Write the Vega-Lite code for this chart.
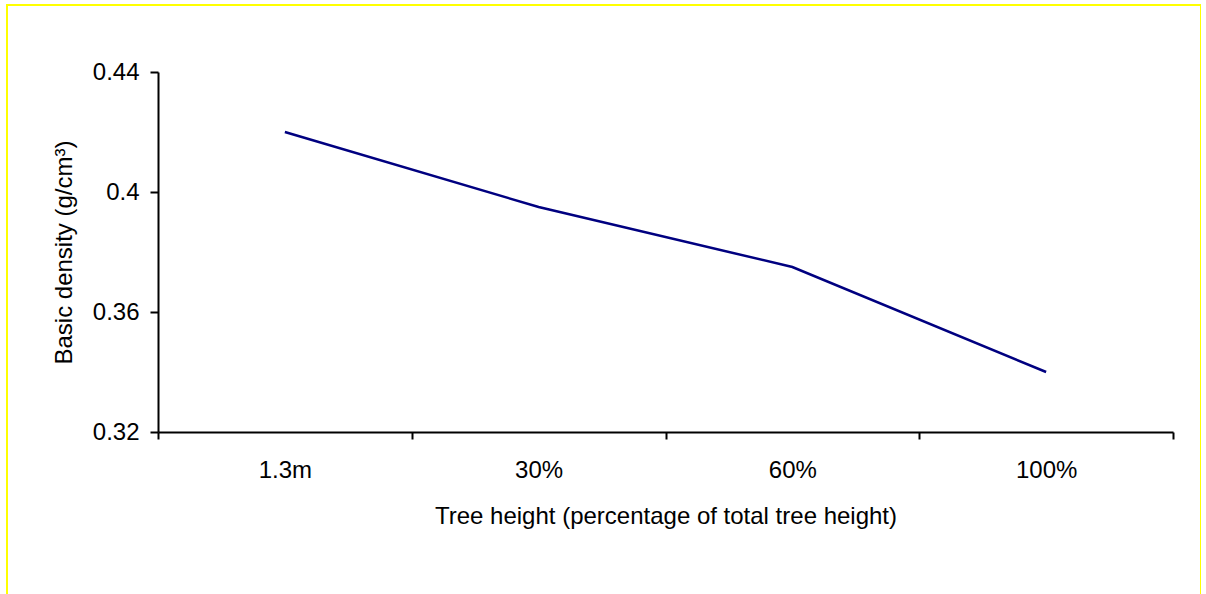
{
  "$schema": "https://vega.github.io/schema/vega-lite/v6.json",
  "autosize": {"type": "none"},
  "padding": {"left": 7, "top": 5, "right": 0, "bottom": 0},
  "width": 1194,
  "height": 590,
  "background": "white",
  "config": {
    "view": {"stroke": "#FFFF00", "strokeWidth": 2},
    "font": "Liberation Sans",
    "axis": {
      "grid": false,
      "domainColor": "black",
      "domainWidth": 2,
      "tickColor": "black",
      "tickWidth": 2,
      "labelFont": "Liberation Sans",
      "labelFontSize": 24,
      "labelColor": "black",
      "titleFont": "Liberation Sans",
      "titleFontSize": 24,
      "titleFontWeight": "normal",
      "titleColor": "black"
    }
  },
  "data": {
    "values": [
      {"height": "1.3m", "density": 0.42},
      {"height": "30%", "density": 0.395},
      {"height": "60%", "density": 0.375},
      {"height": "100%", "density": 0.34}
    ]
  },
  "mark": {"type": "line", "color": "#000080", "strokeWidth": 2.5},
  "encoding": {
    "x": {
      "field": "height",
      "type": "nominal",
      "sort": ["1.3m", "30%", "60%", "100%"],
      "scale": {"type": "band", "paddingInner": 0, "paddingOuter": 0, "range": [151, 1166]},
      "axis": {
        "title": "Tree height (percentage of total tree height)",
        "orient": "bottom",
        "offset": -163,
        "labelAngle": 0,
        "tickBand": "extent",
        "tickSize": 7,
        "labelPadding": 19,
        "titlePadding": 22
      }
    },
    "y": {
      "field": "density",
      "type": "quantitative",
      "scale": {"domain": [0.32, 0.44], "nice": false, "zero": false, "range": [427, 67]},
      "axis": {
        "title": "Basic density (g/cm³)",
        "orient": "left",
        "offset": -151,
        "values": [0.32, 0.36, 0.4, 0.44],
        "format": "~g",
        "tickSize": 8,
        "labelPadding": 11,
        "titlePadding": 16
      }
    }
  }
}
